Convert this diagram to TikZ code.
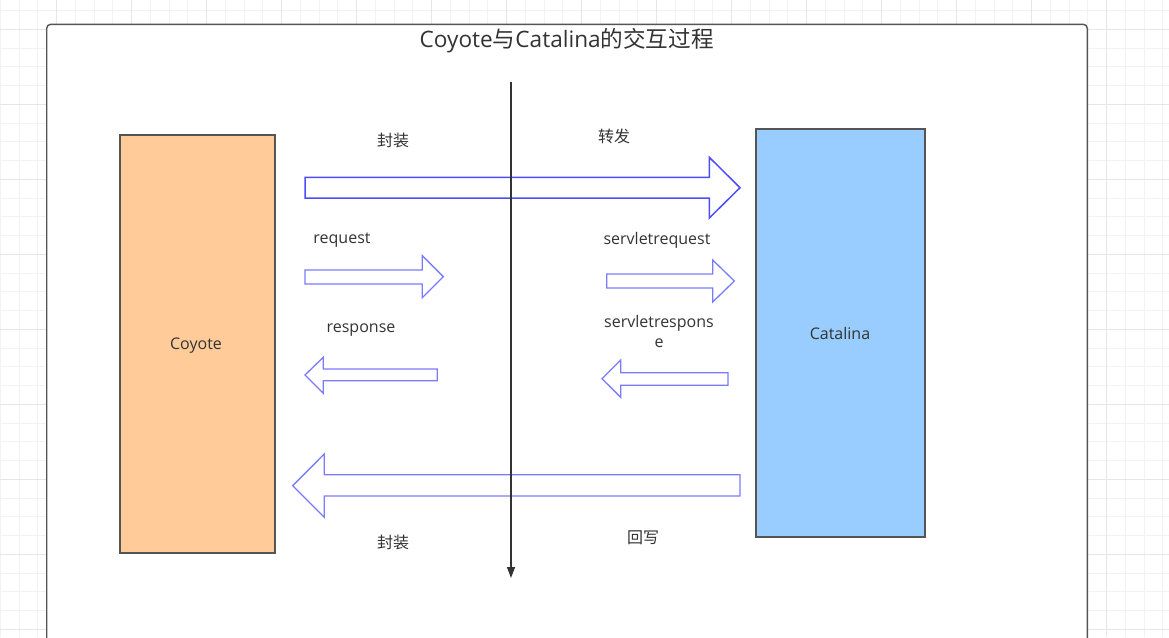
\documentclass[tikz,border=0pt]{standalone}
\usepackage{fontspec}
\setmainfont{Open Sans}
\newfontfamily\cjk{Noto Sans CJK SC}
\usetikzlibrary{arrows.meta}
\definecolor{gridminor}{HTML}{F2F2F2}
\definecolor{gridmajor}{HTML}{E6E6E6}
\definecolor{edgegray}{HTML}{555555}
\definecolor{txt}{HTML}{333333}
\definecolor{coyotefill}{HTML}{FFCC99}
\definecolor{catfill}{HTML}{99CCFF}
\definecolor{bluedark}{HTML}{4D4DFF}
\definecolor{bluelight}{HTML}{7B7BFF}
\tikzset{
  lbl/.style={text=txt, font=\fontsize{16}{20}\selectfont, inner sep=0pt, align=center},
  boxnode/.style={draw=edgegray, line width=1.2pt, inner sep=0pt},
  bigarrow/.style={draw=bluedark, line width=1.5pt, fill=white, line join=miter},
  smallarrow/.style={draw=bluelight, line width=1.3pt, fill=white, line join=miter},
}
\begin{document}
\begin{tikzpicture}[x=1pt,y=-1pt]
\useasboundingbox (0,0) rectangle (1169,637);
\fill[white] (0,0) rectangle (1169,637);
% grid
\foreach \i in {0,...,62} \draw[gridminor, line width=1pt] ({0.45+18.75*\i},0) -- ({0.45+18.75*\i},637);
\foreach \i in {0,...,33} \draw[gridminor, line width=1pt] (0,{10.55+18.75*\i}) -- (1169,{10.55+18.75*\i});
\foreach \i in {0,...,15} \draw[gridmajor, line width=1pt] ({56.7+75*\i},0) -- ({56.7+75*\i},637);
\foreach \i in {0,...,8} \draw[gridmajor, line width=1pt] (0,{29.3+75*\i}) -- (1169,{29.3+75*\i});
% container
\draw[edgegray, line width=1.4pt, fill=white, rounded corners=4pt] (46.7,660) -- (46.7,24.3) -- (1087.3,24.3) -- (1087.3,660);
\node[lbl, font=\fontsize{22.6}{27}\selectfont] (title) at (566.7,41) {Coyote{\cjk 与}Catalina{\cjk 的交互过程}};
% boxes
\node[boxnode, fill=coyotefill, minimum width=155pt, minimum height=418pt] (coyote) at (197.5,344) {};
\node[boxnode, fill=catfill, minimum width=169pt, minimum height=408pt] (catalina) at (840.5,333) {};
\node[lbl] (coyotetext) at (196,346) {Coyote};
\node[lbl] (catalinatext) at (840,333.5) {Catalina};
% block arrows
\draw[bigarrow] (305,177.3) -- (709.3,177.3) -- (709.3,157.3) -- (740,187.7) -- (709.3,218) -- (709.3,198) -- (305,198) -- cycle;
\draw[smallarrow] (305,270) -- (422.3,270) -- (422.3,255.7) -- (443.3,276.7) -- (422.3,297.7) -- (422.3,284) -- (305,284) -- cycle;
\draw[smallarrow] (305,375) -- (323.3,357.3) -- (323.3,369) -- (437.3,369) -- (437.3,380.7) -- (323.3,380.7) -- (323.3,393.3) -- cycle;
\draw[smallarrow] (606.7,274) -- (712.7,274) -- (712.7,260) -- (734.3,281) -- (712.7,302) -- (712.7,288) -- (606.7,288) -- cycle;
\draw[smallarrow] (602,378.7) -- (620.7,360) -- (620.7,372.7) -- (728,372.7) -- (728,385.3) -- (620.7,385.3) -- (620.7,397.3) -- cycle;
\draw[smallarrow] (292.7,485.7) -- (324.3,454) -- (324.3,474.7) -- (740,474.7) -- (740,496) -- (324.3,496) -- (324.3,517.3) -- cycle;
% vertical divider
\coordinate (vtop) at (511,81.7);
\coordinate (vbot) at (511,578);
\draw[txt, line width=1.3pt, -{Triangle[length=11pt,width=8pt]}] (vtop) -- (vbot);
% labels
\node[lbl] (l1) at (393,140.5) {\cjk 封装};
\node[lbl] (l2) at (614,136.5) {\cjk 转发};
\node[lbl] (l3) at (342,240.5) {request};
\node[lbl] (l4) at (361,330.5) {response};
\node[lbl] (l5) at (657,240.5) {servletrequest};
\node[lbl] (l6) at (659,331) {servletrespons\\e};
\node[lbl] (l7) at (393,542) {\cjk 封装};
\node[lbl] (l8) at (643,538) {\cjk 回写};
\end{tikzpicture}
\end{document}
